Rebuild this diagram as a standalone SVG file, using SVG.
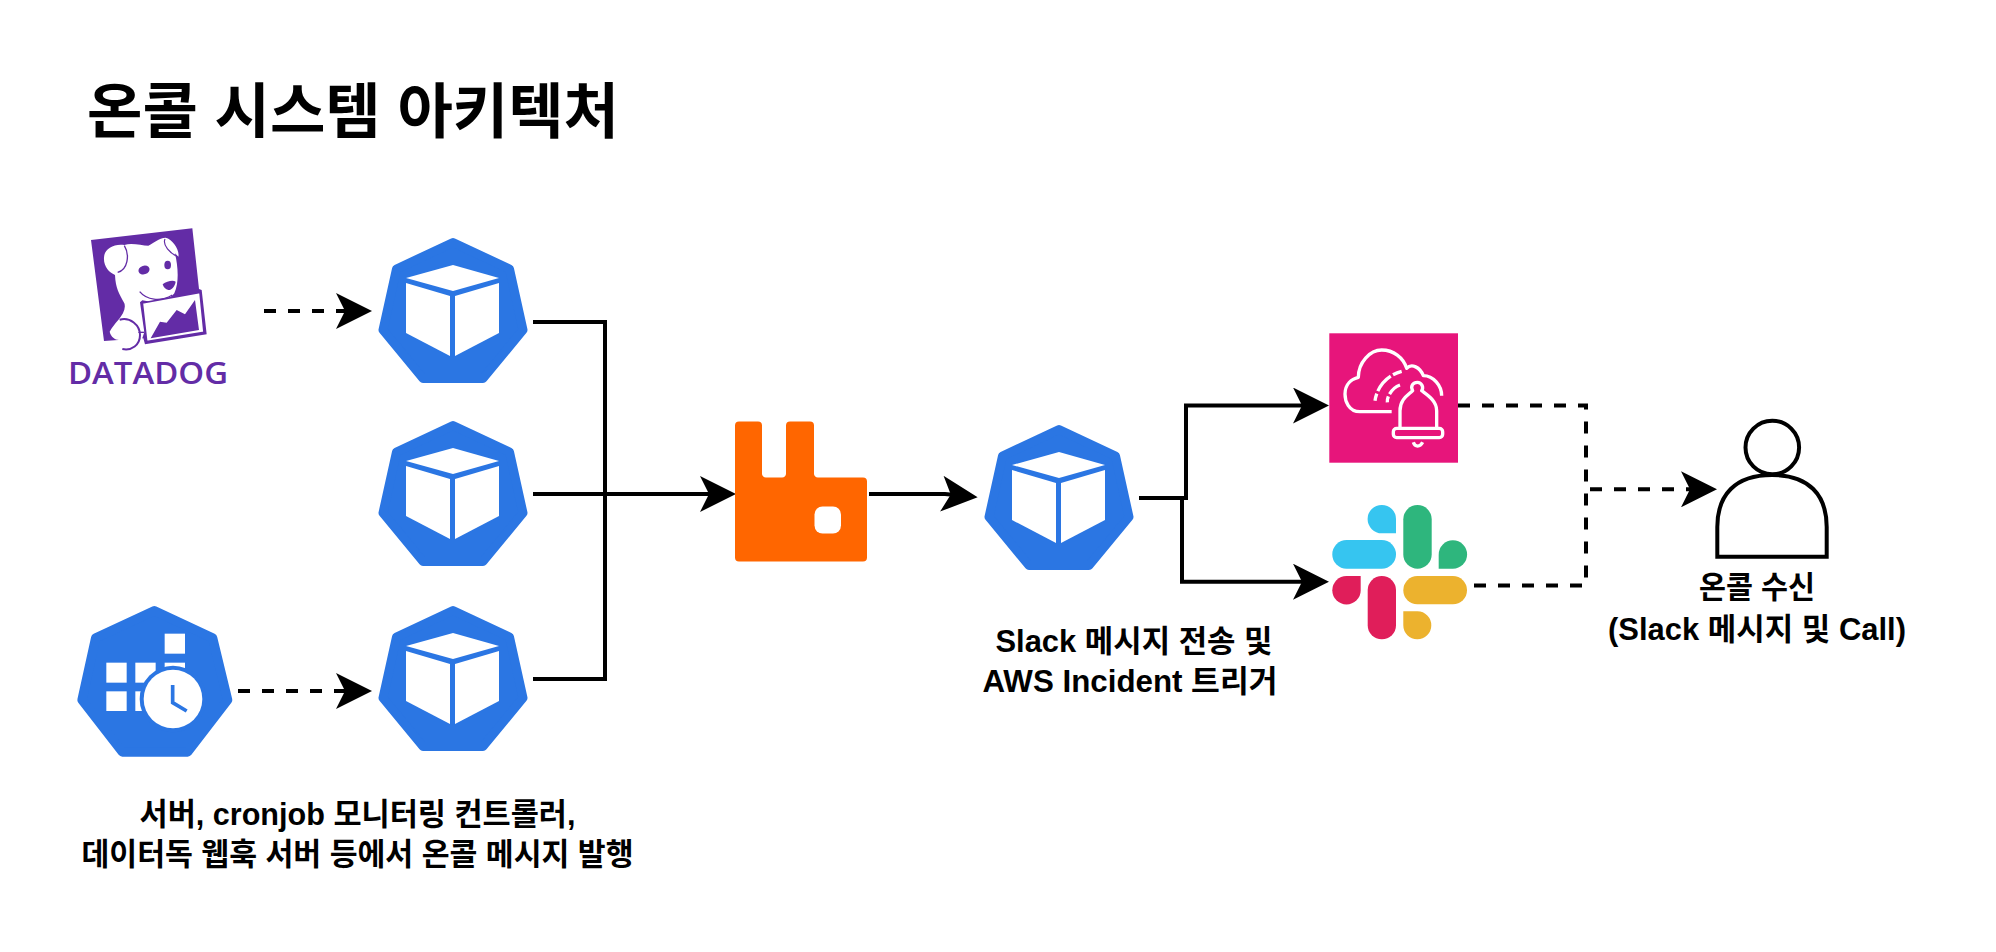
<svg xmlns="http://www.w3.org/2000/svg" xmlns:xlink="http://www.w3.org/1999/xlink" width="1996" height="952" viewBox="0 0 1996 952">
<style>
text{font-family:"Liberation Sans","Noto Sans CJK KR",sans-serif;font-weight:700;fill:#000;text-anchor:middle}
.lbl{font-size:31px}
.c{fill:none;stroke:#000;stroke-width:4}
.d{stroke-dasharray:12 12}
.a{marker-end:url(#arrow)}
.hex{fill:#2b76e3;stroke:#2b76e3;stroke-linejoin:round}
.w{fill:#fff}
.aws{fill:none;stroke:#fff;stroke-width:10;stroke-linejoin:round;stroke-linecap:butt}
</style>
<defs>
<marker id="arrow" markerUnits="userSpaceOnUse" markerWidth="36" markerHeight="36" viewBox="0 0 36 36" refX="26" refY="18" orient="auto"><path d="M0,0L36,18L0,36L9,18Z" fill="#000"/></marker>
<g id="k8s">
<polygon class="hex" stroke-width="9" points="75,4.500 131.500,31 145,92 105,140.500 45,140.500 5,92 18.500,31"/>
<polygon class="w" points="75,27 121,40 75,53 28,40"/>
<polygon class="w" points="28,45 72,58 72,118 28,95"/>
<polygon class="w" points="77,58 121,45 121,95 77,118"/>
</g>
</defs>
<rect width="1996" height="952" fill="#fff"/>
<text id="title" x="353" y="133" textLength="532" lengthAdjust="spacingAndGlyphs" style="font-size:60px">온콜 시스템 아키텍처</text>
<g id="connectors">
<path class="c d a" d="M264,311H362"/>
<path class="c" d="M533,322H605V679H533"/>
<path class="c a" d="M533,494H726"/>
<path class="c d a" d="M238,691H362"/>
<path class="c a" d="M869,494H945L967.700,496.200"/>
<path class="c a" d="M1139,498H1186V405.500H1319"/>
<path class="c a" d="M1139,498H1182V581.700H1319"/>
<path class="c d" d="M1458,405.500H1586V585.500H1474"/>
<path class="c d a" d="M1590,489.300H1707"/>
</g>
<g id="datadog">
<g transform="translate(85,225) scale(.33333)">
<polygon fill="#632ca6" points="18,45 322,10 342,192 350,195 365,328 180,358 175,340 57,348"/>
<path class="w" d="M118,60C140,52 170,62 190,62C205,55 222,38 242,38C262,42 285,75 280,95L270,85C278,120 284,170 268,205C250,228 210,236 172,226L165,232L178,322L170,345C165,360 160,375 130,380C110,380 100,365 102,345C90,344 78,336 74,320C85,295 128,265 118,235C102,205 92,190 90,150C70,142 52,120 58,90C62,70 90,55 118,60Z"/>
<path d="M118,62C135,90 128,135 98,142" fill="none" stroke="#632ca6" stroke-width="4"/>
<path d="M240,42C232,60 255,85 278,95" fill="none" stroke="#632ca6" stroke-width="3.500"/>
<ellipse cx="177" cy="135" rx="17" ry="13" transform="rotate(-18 177 135)" fill="#632ca6"/>
<ellipse cx="248" cy="120" rx="10" ry="13" fill="#632ca6"/>
<path d="M233,178C245,168 265,165 272,170C270,185 258,196 250,195C242,193 235,187 233,178Z" fill="#632ca6"/>
<path d="M164,200C185,225 225,232 262,210" fill="none" stroke="#632ca6" stroke-width="4"/>
<polygon class="w" points="172,234 345,202 357,322 185,350"/>
<polygon points="172,234 345,202 357,322 185,350" fill="none" stroke="#632ca6" stroke-width="5"/>
<polygon fill="#632ca6" points="197,340 225,290 245,293 275,255 300,268 330,225 342,315"/>
<path d="M104,284C135,275 165,300 165,330C165,360 140,378 112,372" fill="none" stroke="#632ca6" stroke-width="6"/>
<path d="M160,322L178,322" stroke="#632ca6" stroke-width="4"/>
</g>
<text x="148" y="384" textLength="160" lengthAdjust="spacingAndGlyphs" style="font-family:'Open Sans',sans-serif;font-size:31px;font-weight:600;fill:#632ca6">DATADOG</text>
</g>
<use id="k8s-1" href="#k8s" x="378" y="238"/>
<use id="k8s-2" href="#k8s" x="378" y="421"/>
<use id="k8s-3" href="#k8s" x="378" y="606"/>
<use id="k8s-4" href="#k8s" x="984" y="425"/>
<g id="cronjob" transform="translate(70,600) scale(.33333)">
<polygon class="hex" stroke-width="28" points="253,32 428,114 473,300 353,456 157,456 36,300 77,114"/>
<rect class="w" x="109" y="188" width="61" height="60"/>
<rect class="w" x="196" y="188" width="61" height="60"/>
<rect class="w" x="284" y="101" width="61" height="60"/>
<rect class="w" x="284" y="188" width="61" height="60"/>
<rect class="w" x="109" y="274" width="61" height="59"/>
<rect class="w" x="196" y="274" width="61" height="59"/>
<circle cx="309" cy="297" r="100" fill="#2b76e3"/>
<circle class="w" cx="309" cy="297" r="88"/>
<path d="M308,255V308L350,333" fill="none" stroke="#2b76e3" stroke-width="11"/>
</g>
<g id="rabbitmq">
<path fill="#f60" d="M739,421.500H758A4,4 0 0 1 762,425.500V473A4,4 0 0 0 766,477.500H782A4,4 0 0 0 786,473V425.500A4,4 0 0 1 790,421.500H810A4,4 0 0 1 814,425.500V473A4,4 0 0 0 818,477.500H863A4,4 0 0 1 867,481.500V557.500A4,4 0 0 1 863,561.500H739A4,4 0 0 1 735,557.500V425.500A4,4 0 0 1 739,421.500Z"/>
<rect class="w" x="814.500" y="506.500" width="26.500" height="27" rx="8"/>
</g>
<g id="incident">
<rect x="1329.300" y="333.300" width="128.700" height="129.400" fill="#e7157b"/>
<g transform="translate(1340,339) scale(.33333)">
<path class="aws" d="M155,218L60,218C25,218 15,185 15,165C15,135 35,120 55,115C55,70 90,33 125,33C160,33 190,55 200,88C215,72 240,85 250,110C280,110 305,140 305,170"/>
<path class="aws" stroke-dasharray="22 8 60 8 60" d="M105,185C110,150 135,110 185,97"/>
<path class="aws" stroke-dasharray="18 8 60" d="M142,190C140,170 160,145 180,138"/>
<rect class="aws" x="160" y="268" width="148" height="28" rx="10"/>
<path class="aws" d="M180,268L180,215C180,180 205,168 218,155C210,140 220,130 232,130C245,130 252,145 245,155C262,168 290,185 290,215L290,268"/>
<path class="aws" d="M220,310C225,325 240,325 248,310"/>
</g>
</g>
<g id="slack">
<rect x="1332.300" y="540" width="63.700" height="28.700" rx="14.300" fill="#36c5f0"/>
<path d="M1396,533.300H1381.800A14.200,14.200 0 1 1 1396,519.100Z" fill="#36c5f0"/>
<rect x="1403.300" y="505" width="28.400" height="63.700" rx="14.200" fill="#2eb67d"/>
<path d="M1438.700,568.700V554.500A14.200,14.200 0 1 1 1452.900,568.700Z" fill="#2eb67d"/>
<rect x="1367.700" y="576" width="28.300" height="63.300" rx="14.100" fill="#e01e5a"/>
<path d="M1360.700,576V590.200A14.200,14.200 0 1 1 1346.500,576Z" fill="#e01e5a"/>
<rect x="1403.300" y="576" width="63.700" height="28.300" rx="14.100" fill="#ecb22e"/>
<path d="M1403.300,611.300H1417.500A14,14 0 1 1 1403.300,625.300Z" fill="#ecb22e"/>
</g>
<g id="person" fill="none" stroke="#000" stroke-width="4">
<circle cx="1772.300" cy="447.500" r="26.800" fill="#fff"/>
<path d="M1717.300,556.700V527C1717.300,495 1735,475 1772,475C1809,475 1826.700,495 1826.700,527V556.700Z" fill="#fff"/>
</g>
<g id="labels">
<text class="lbl" x="357.500" y="825" textLength="436" lengthAdjust="spacingAndGlyphs">서버, cronjob 모니터링 컨트롤러,</text>
<text class="lbl" x="357.500" y="865" textLength="552" lengthAdjust="spacingAndGlyphs">데이터독 웹훅 서버 등에서 온콜 메시지 발행</text>
<text class="lbl" x="1134" y="652" textLength="277" lengthAdjust="spacingAndGlyphs">Slack 메시지 전송 및</text>
<text class="lbl" x="1130" y="692" textLength="295" lengthAdjust="spacingAndGlyphs">AWS Incident 트리거</text>
<text class="lbl" x="1757" y="598" textLength="116" lengthAdjust="spacingAndGlyphs">온콜 수신</text>
<text class="lbl" x="1757" y="640" textLength="298" lengthAdjust="spacingAndGlyphs">(Slack 메시지 및 Call)</text>
</g>
</svg>
